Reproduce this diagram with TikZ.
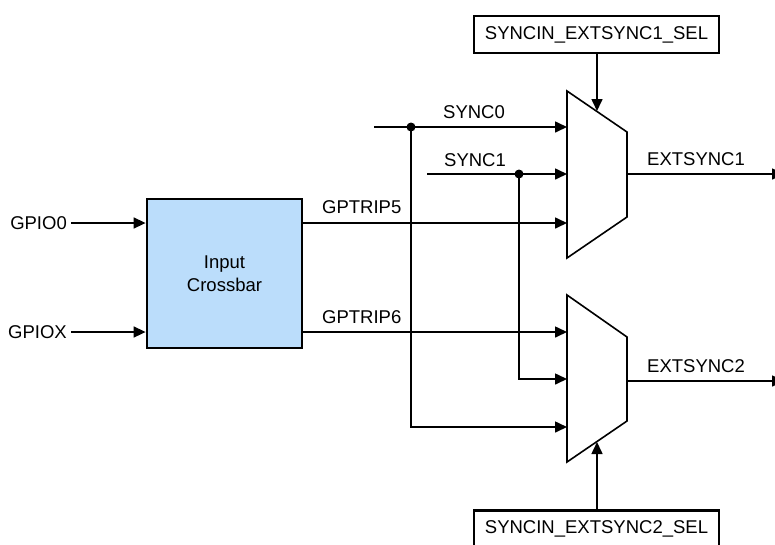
\documentclass[tikz,border=0pt]{standalone}
\usepackage{fontspec}
\setmainfont{Liberation Sans}
\usetikzlibrary{positioning,arrows.meta,calc}
\definecolor{xbarblue}{HTML}{BBDDFB}

\begin{document}
\begin{tikzpicture}[
  x=1pt,y=-1pt,
  font=\fontsize{18.5}{23}\selectfont,
  blk/.style={rectangle,draw,line width=2.8pt,fill=xbarblue,minimum width=155pt,
              minimum height=149pt,align=center},
  selbox/.style={rectangle,draw,line width=2.8pt,minimum width=245pt,minimum height=37pt},
  lbl/.style={inner sep=0pt,anchor=base west},
  pin/.style={inner xsep=4pt,inner ysep=0pt,anchor=east},
  arr/.style={-{Triangle[length=12pt,width=11pt]},line width=1.6pt},
  muxl/.style={line width=1.6pt,line join=miter}
]
\useasboundingbox (0,0) rectangle (775,544);
% input crossbar
\node[blk] (xbar) at (224.5,273.5) {Input\\Crossbar};
\node[pin] (g0) at (71,223) {GPIO0};
\node[pin] (gx) at (71,332) {GPIOX};
\draw[arr] (g0.east) -- (g0.east -| xbar.west);
\draw[arr] (gx.east) -- (gx.east -| xbar.west);
% muxes
\draw[muxl] (567,91) -- (627,132) -- (627,217) -- (567,258) -- cycle;
\draw[muxl] (567,295) -- (627,337) -- (627,421) -- (567,462) -- cycle;
\coordinate (m1a) at (567,127);
\coordinate (m1b) at (567,174);
\coordinate (m1c) at (567,223);
\coordinate (m2a) at (567,332);
\coordinate (m2b) at (567,379);
\coordinate (m2c) at (567,427);
\coordinate (m1sel) at (597,111);
\coordinate (m2sel) at (597,442);
\coordinate (m1out) at (627,174);
\coordinate (m2out) at (627,381);
\coordinate (o1) at (784,174);
\coordinate (o2) at (784,381);
% select boxes
\node[selbox] (sel1) at (596.5,34.5) {SYNCIN\_EXTSYNC1\_SEL};
\node[selbox] (sel2) at (596.5,529) {SYNCIN\_EXTSYNC2\_SEL};
\draw[arr] (sel1.south -| m1sel) -- (m1sel);
\draw[arr] (sel2.north -| m2sel) -- (m2sel);
% sync inputs
\coordinate (s0) at (374,127);
\coordinate (s1) at (427,174);
\coordinate (j0) at (411,127);
\coordinate (j1) at (519,174);
\draw[arr] (s0) -- (m1a);
\draw[arr] (s1) -- (m1b);
\draw[arr] (j0) |- (m2c);
\draw[arr] (j1) |- (m2b);
\fill (j0) circle (4.5pt);
\fill (j1) circle (4.5pt);
\draw[arr] (xbar.east |- m1c) -- (m1c);
\draw[arr] (xbar.east |- m2a) -- (m2a);
\draw[arr] (m1out) -- (o1);
\draw[arr] (m2out) -- (o2);
% labels
\node[lbl] (l0) at (443,118) {SYNC0};
\node[lbl] (l1) at (444,166) {SYNC1};
\node[lbl] (l5) at (322,213) {GPTRIP5};
\node[lbl] (l6) at (322,323) {GPTRIP6};
\node[lbl] (e1) at (647,165) {EXTSYNC1};
\node[lbl] (e2) at (647,372) {EXTSYNC2};
\end{tikzpicture}
\end{document}
